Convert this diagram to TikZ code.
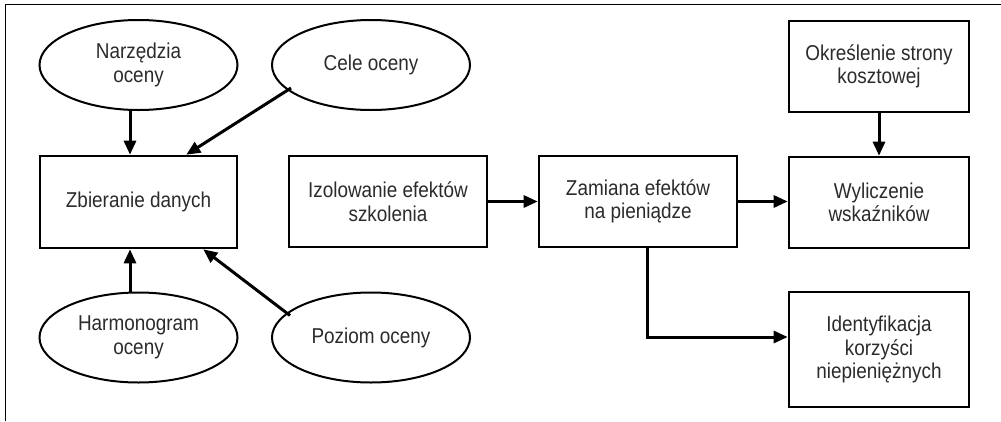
\documentclass[tikz,border=0pt]{standalone}
\usepackage{fontspec}
\setmainfont{Liberation Sans}[FakeStretch=0.88]
\usetikzlibrary{shapes.geometric,arrows.meta,calc}
\definecolor{ink}{HTML}{2B2B2B}
\begin{document}
\begin{tikzpicture}[x=1pt,y=-1pt,
  every node/.style={font=\fontsize{21.5}{23.5}\selectfont, text=ink, align=center, inner sep=0pt},
  box/.style={draw=black, line width=2.6pt, rectangle, minimum width=#1},
  box/.default=198pt,
  oval/.style={draw=black, line width=2pt, ellipse, minimum width=198pt, minimum height=90pt},
  arr/.style={draw=black, line width=3pt, -{Triangle[length=14pt,width=12pt]}}]
\useasboundingbox (0,0) rectangle (1001,421);
\draw[line width=1pt] (5,421) -- (5,4) -- (1001,4);
% ovals
\node[oval] (nar) at (138.5,65) {Narzędzia\\oceny};
\node[oval] (cele) at (371,65) {Cele oceny};
\node[oval] (harm) at (138.5,337.5) {Harmonogram\\oceny};
\node[oval] (poz) at (371,337.5) {Poziom oceny};
% boxes
\node[box=197pt, minimum height=92pt] (zb) at (138.5,202) {Zbieranie danych};
\node[box, minimum height=91pt] (izo) at (388,201.5) {Izolowanie efektów\\szkolenia};
\node[box, minimum height=91pt] (zam) at (638,201.5) {Zamiana efektów\\na pieniądze};
\node[box=180pt, minimum height=91pt] (okr) at (879,66.5) {Określenie strony\\kosztowej};
\node[box=180pt, minimum height=91pt] (wyl) at (879,202.5) {Wyliczenie\\wskaźników};
\node[box=180pt, minimum height=115pt] (ide) at (879,349.5) {Identyfikacja\\korzyści\\niepieniężnych};
% connectors
\draw[arr] (nar.south -| 130,0) -- (zb.north -| 130,0);
\draw[arr] (harm.north -| 130,0) -- (zb.south -| 130,0);
\draw[arr] ([shift={(-80,23)}]cele.center) -- ([xshift=-52pt]zb.north east);
\draw[arr] ([shift={(-81,-22)}]poz.center) -- ([xshift=-35pt]zb.south east);
\draw[arr] (izo.east) -- (zam.west);
\draw[arr] (zam.east) -- (zam.east -| wyl.west);
\draw[arr] (okr.south) -- (wyl.north);
\coordinate (k) at (647,337);
\draw[arr] (zam.south -| k) |- (ide.west |- k);
\end{tikzpicture}
\end{document}
